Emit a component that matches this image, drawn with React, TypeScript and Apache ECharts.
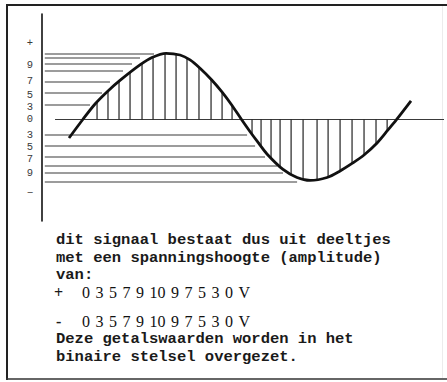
import React, { useEffect, useRef } from "react";
import * as echarts from "echarts";

// Sine curve: phase (degrees) and amplitude (units, peak = 10)
const curvePhase = [-15.9, 0, 14.1, 29.0, 42.8, 65.8, 79.7, 95.8, 112, 123.5, 135, 148.5, 160, 171.5, 182.8, 192.5, 202.3, 212.1, 230.6, 246.7, 261.7, 281.3, 296.3, 310.1, 323.9, 338.9, 351.5, 361.5, 378];
const curveValue = [-2.81, 0, 2.35, 4.32, 5.92, 8.27, 9.4, 10.04, 9.78, 9.03, 7.77, 5.99, 4.22, 2.2, 0, -1.82, -3.56, -5.23, -7.58, -8.8, -9.25, -8.8, -7.81, -6.67, -5.39, -3.57, -1.59, 0, 2.81];

// Vertical sample (hatch) lines
const hatchPhase = [16.4, 29.0, 41.7, 54.4, 68.2, 80.9, 94.7, 107.4, 120.0, 133.8, 147.7, 160.4, 171.9, 194.9, 205.3, 216.8, 227.2, 239.9, 253.7, 269.8, 282.5, 296.3, 310.1, 323.9, 337.7, 350.5];
const hatchValue = [2.65, 4.32, 5.7, 7.09, 8.46, 9.45, 10.0, 9.88, 9.25, 7.89, 6.1, 4.17, 2.14, -2.23, -4.05, -5.83, -7.15, -8.28, -9.01, -9.07, -8.72, -7.81, -6.67, -5.25, -3.57, -1.59];

// Horizontal level lines
const levelStart = -43.8;
const positiveLevels = [9.94, 9.33, 8.42, 7.36, 5.69, 4.02, 2.2];
const positiveEnds = [82, 65.9, 56.7, 46.3, 31.3, 22.1, 8.3];
const negativeLevels = [-2.35, -4.02, -5.69, -7.06, -8.12, -9.48];
const negativeEnds = [189.2, 198.4, 209.9, 223.7, 230.6, 246.8];
const zeroLine = [-32, 416];

// Y axis tick labels
const yTickValues = [11.6, 8.27, 5.84, 3.72, 1.9, 0, -2.35, -4.17, -5.99, -8.12, -11.15];
const yTickLabels = ["+", "9", "7", "5", "3", "0", "3", "5", "7", "9", "\u2212"];

// Caption text
const introLines = [
  "dit signaal bestaat dus uit deeltjes",
  "met een spanningshoogte (amplitude)",
  "van:",
];
const amplitudes = [0, 3, 5, 7, 9, 10, 9, 7, 5, 3, 0];
const unitLabel = "V";
const signs = ["+", "-"];
const outroLines = [
  "Deze getalswaarden worden in het",
  "binaire stelsel overgezet.",
];

export default function App() {
  const ref = useRef<HTMLDivElement>(null);

  useEffect(() => {
    const chart = echarts.init(ref.current!, null, { renderer: "svg" });

    const segments: number[][] = [];
    positiveLevels.forEach((lv, i) => segments.push([levelStart, positiveEnds[i], lv]));
    negativeLevels.forEach((lv, i) => segments.push([levelStart, negativeEnds[i], lv]));
    segments.push([zeroLine[0], zeroLine[1], 0]);

    const hatchData = hatchPhase.map((p, i) => [p, hatchValue[i]]);
    const curveData = curvePhase.map((p, i) => [p, curveValue[i]]);

    const mono = "'Liberation Mono', 'Courier New', monospace";
    const serif = "'Liberation Serif', 'Times New Roman', serif";

    const graphics: any[] = [];
    // frame
    graphics.push({ type: "line", shape: { x1: 7, y1: 4, x2: 7, y2: 380 }, style: { stroke: "#222", lineWidth: 2 } });
    graphics.push({ type: "line", shape: { x1: 6, y1: 5, x2: 447, y2: 5 }, style: { stroke: "#222", lineWidth: 2 } });
    graphics.push({ type: "line", shape: { x1: 6, y1: 379, x2: 447, y2: 379 }, style: { stroke: "#333", lineWidth: 1.5 } });
    graphics.push({ type: "line", shape: { x1: 442.5, y1: 6, x2: 442.5, y2: 378 }, style: { stroke: "#ececec", lineWidth: 1 } });

    const textColor = "#1a1a1a";
    const lineYs = [240, 257.5, 275];
    introLines.forEach((t, i) => {
      graphics.push({
        type: "text",
        x: 56,
        y: lineYs[i],
        style: { text: t, font: `bold 15.5px ${mono}`, fill: textColor, textVerticalAlign: "middle" },
      });
    });

    const rowYs = [292, 321];
    const digitW = 8;
    const gap = 5.5;
    signs.forEach((s, r) => {
      graphics.push({
        type: "text",
        x: s === "+" ? 54 : 56,
        y: rowYs[r],
        style: { text: s, font: `bold 16px ${serif}`, fill: textColor, textVerticalAlign: "middle" },
      });
      const tokens = [...amplitudes.map(String), unitLabel];
      let cx = 82;
      tokens.forEach((tk) => {
        graphics.push({
          type: "text",
          x: cx,
          y: rowYs[r],
          style: { text: tk, font: `16px ${serif}`, fill: "#111", textVerticalAlign: "middle" },
        });
        const w = tk === unitLabel ? 11.6 : tk.length * digitW;
        cx += w + gap;
      });
    });

    const outroYs = [339, 357];
    outroLines.forEach((t, i) => {
      graphics.push({
        type: "text",
        x: 56,
        y: outroYs[i],
        style: { text: t, font: `bold 15.5px ${mono}`, fill: textColor, textVerticalAlign: "middle" },
      });
    });

    const option: any = {
      animation: false,
      backgroundColor: "#ffffff",
      grid: { left: 42, top: 14, width: 402, height: 207, containLabel: false },
      xAxis: {
        type: "value",
        min: -47,
        max: 416,
        show: false,
      },
      yAxis: {
        type: "value",
        min: -15.4,
        max: 16,
        axisLine: { show: true, onZero: false, lineStyle: { color: "#111", width: 1.6 } },
        axisTick: { show: false },
        splitLine: { show: false },
        axisLabel: {
          show: true,
          customValues: yTickValues,
          margin: 9,
          fontFamily: "'Liberation Mono', monospace",
          fontSize: 10.5,
          lineHeight: 10,
          color: "#3a3a3a",
          formatter: (v: number) => {
            let best = 0;
            let bd = Infinity;
            yTickValues.forEach((tv, i) => {
              const d = Math.abs(tv - v);
              if (d < bd) {
                bd = d;
                best = i;
              }
            });
            return yTickLabels[best];
          },
        },
      },
      series: [
        {
          type: "custom",
          name: "levels",
          silent: true,
          clip: false,
          encode: { x: [0, 1], y: 2 },
          data: segments,
          renderItem: (params: any, api: any) => {
            const a = api.coord([api.value(0), api.value(2)]);
            const b = api.coord([api.value(1), api.value(2)]);
            return {
              type: "line",
              shape: { x1: a[0], y1: a[1], x2: b[0], y2: b[1] },
              style: { stroke: "#3a3a3a", lineWidth: 1.1 },
            };
          },
        },
        {
          type: "custom",
          name: "samples",
          silent: true,
          clip: false,
          encode: { x: 0, y: 1 },
          data: hatchData,
          renderItem: (params: any, api: any) => {
            const a = api.coord([api.value(0), 0]);
            const b = api.coord([api.value(0), api.value(1)]);
            return {
              type: "line",
              shape: { x1: a[0], y1: a[1], x2: b[0], y2: b[1] },
              style: { stroke: "#222", lineWidth: 1.2 },
            };
          },
        },
        {
          type: "line",
          name: "signal",
          data: curveData,
          smooth: 0.3,
          showSymbol: false,
          symbol: "none",
          silent: true,
          clip: false,
          lineStyle: { color: "#111", width: 2.8 },
        },
      ],
      graphic: graphics,
    };

    chart.setOption(option);
    return () => chart.dispose();
  }, []);

  return (
    <div
      ref={ref}
      style={{ position: "fixed", left: 0, top: 0, width: 447, height: 382, background: "#fff" }}
    />
  );
}
